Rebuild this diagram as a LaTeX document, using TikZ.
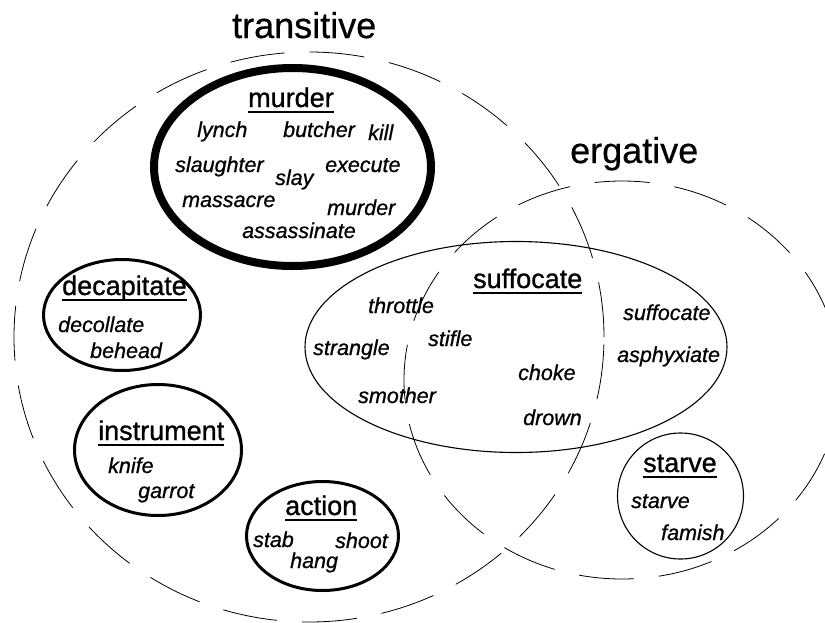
\documentclass[tikz,border=0pt]{standalone}
\usepackage{fontspec}
\setmainfont{Liberation Sans}
% scanned-print look: slightly heavier strokes than the regular weight
\newfontfamily\titlesans{Liberation Sans}[FakeBold=0.6]
\newfontfamily\headsans{Liberation Sans}[FakeBold=1.0]
\newfontfamily\verbsans{Liberation Sans}[FakeBold=0.8]
\begin{document}
\begin{tikzpicture}[x=1pt, y=-1pt,
  title/.style={font=\titlesans\fontsize{36}{36}\selectfont, anchor=base west, inner sep=0pt},
  head/.style={font=\headsans\fontsize{27}{27}\selectfont, anchor=base west, inner sep=0pt},
  verb/.style={font=\verbsans\fontsize{21.5}{21.5}\selectfont\itshape, anchor=base west, inner sep=0pt},
  uline/.style={line width=2.3pt},
  setline/.style={line width=0.8pt, dash pattern=on 55pt off 25pt},
  heavyring/.style={line width=8pt},
  ring/.style={line width=3pt},
  thinring/.style={line width=1.1pt}
]
\useasboundingbox (0,0) rectangle (825,622);

% the two large classes
\draw[setline] (309,337) ellipse [x radius=295pt, y radius=285pt];
\draw[setline, dash phase=20pt] (622,380) ellipse [x radius=218pt, y radius=199pt];

% sub-classes
\draw[heavyring] (292.5,167) ellipse [x radius=138.5pt, y radius=99pt];
\draw[ring] (122,315) ellipse [x radius=78.5pt, y radius=55.5pt];
\draw[ring] (158,450) ellipse [x radius=83.5pt, y radius=65.5pt];
\draw[ring] (322.5,536) ellipse [x radius=76pt, y radius=54.5pt];
\draw[thinring] (516,347) ellipse [x radius=211pt, y radius=105.5pt];
\draw[thinring] (680.5,496) ellipse [x radius=63pt, y radius=63pt];

% class titles
\node[title] (ttrans) at (232,38) {transitive};
\node[title] (terg) at (570,163) {ergative};

% murder
\node[head] (hmurder) at (248,107) {murder};
\node[verb] (vlynch) at (197,137) {lynch};
\node[verb] (vbutcher) at (283,137) {butcher};
\node[verb] (vkill) at (368,140) {kill};
\node[verb] (vslaughter) at (175,172) {slaughter};
\node[verb] (vexecute) at (325,172) {execute};
\node[verb] (vslay) at (275,185) {slay};
\node[verb] (vmassacre) at (182,207) {massacre};
\node[verb] (vmurder) at (327,215) {murder};
\node[verb] (vassassinate) at (242,238) {assassinate};

% decapitate
\node[head] (hdecap) at (62,295) {decapitate};
\node[verb] (vdecollate) at (58,332) {decollate};
\node[verb] (vbehead) at (90,358) {behead};

% instrument
\node[head] (hinstr) at (98,440) {instrument};
\node[verb] (vknife) at (108,473) {knife};
\node[verb] (vgarrot) at (138,498) {garrot};

% action
\node[head] (haction) at (285,515) {action};
\node[verb] (vstab) at (253,547) {stab};
\node[verb] (vshoot) at (335,548) {shoot};
\node[verb] (vhang) at (290,568) {hang};

% suffocate
\node[head] (hsuff) at (473,288) {suffocate};
\node[verb] (vthrottle) at (368,313) {throttle};
\node[verb] (vstifle) at (428,346) {stifle};
\node[verb] (vstrangle) at (313,355) {strangle};
\node[verb] (vchoke) at (518,380) {choke};
\node[verb] (vsmother) at (358,403) {smother};
\node[verb] (vdrown) at (523,425) {drown};
\node[verb] (vsuffocate) at (623,320) {suffocate};
\node[verb] (vasphyx) at (617,362) {asphyxiate};

% starve
\node[head] (hstarve) at (643,472) {starve};
\node[verb] (vstarve) at (631,508) {starve};
\node[verb] (vfamish) at (661,540) {famish};

% underline the class headings
\foreach \h in {hmurder,hdecap,hinstr,haction,hsuff,hstarve}
  \draw[uline] ([yshift=-5pt]\h.base west) -- ([yshift=-5pt]\h.base east);
\end{tikzpicture}
\end{document}
